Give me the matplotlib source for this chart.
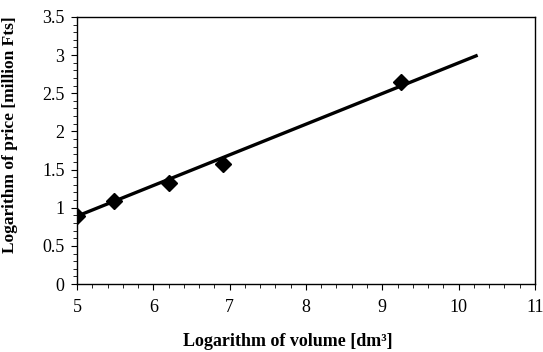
import matplotlib

matplotlib.use("Agg")
import matplotlib.pyplot as plt  # noqa: E402
from matplotlib.ticker import MultipleLocator  # noqa: E402

# observed points (log volume, log price)
log_volume = [5.0, 5.48, 6.21, 6.91, 9.24]
log_price = [0.89, 1.09, 1.33, 1.57, 2.65]

# fitted trend line end points
fit_x = [5.0, 10.23]
fit_y = [0.89, 2.99]

plt.rcParams.update({
    "font.family": ["Liberation Serif", "DejaVu Serif"],
    "font.size": 12,
})

fig = plt.figure(figsize=(5.43, 3.52), dpi=100)
ax = fig.add_axes([0.142, 0.193, 0.843, 0.759])

ax.plot(fit_x, fit_y, color="black", linewidth=2.4, zorder=2)
ax.plot(log_volume, log_price, linestyle="none", marker="D", markersize=8,
        color="black", zorder=3)

ax.set_xlim(5, 11)
ax.set_ylim(0, 3.5)
ax.xaxis.set_major_locator(MultipleLocator(1))
ax.xaxis.set_minor_locator(MultipleLocator(0.2))
ax.yaxis.set_major_locator(MultipleLocator(0.5))
ax.yaxis.set_minor_locator(MultipleLocator(0.1))
ax.tick_params(which="major", direction="out", length=4, width=0.8, labelsize=13)
ax.tick_params(axis="x", which="major", pad=7)
ax.tick_params(axis="y", which="major", pad=5)
ax.tick_params(which="minor", direction="out", length=3, width=0.6)
ax.set_yticks([0, 0.5, 1, 1.5, 2, 2.5, 3, 3.5])
ax.set_yticklabels(["0", "0.5", "1", "1.5", "2", "2.5", "3", "3.5"])

for spine in ax.spines.values():
    spine.set_linewidth(1.0)

ax.set_xlabel("Logarithm of volume [dm³]", fontweight="bold", fontsize=13)
ax.set_ylabel("Logarithm of price [million Fts]", fontweight="bold", fontsize=12.5)
ax.xaxis.set_label_coords(0.46, -0.184)
ax.yaxis.set_label_coords(-0.129, 0.56)

fig.savefig("out.png", dpi=100)
plt.close(fig)
